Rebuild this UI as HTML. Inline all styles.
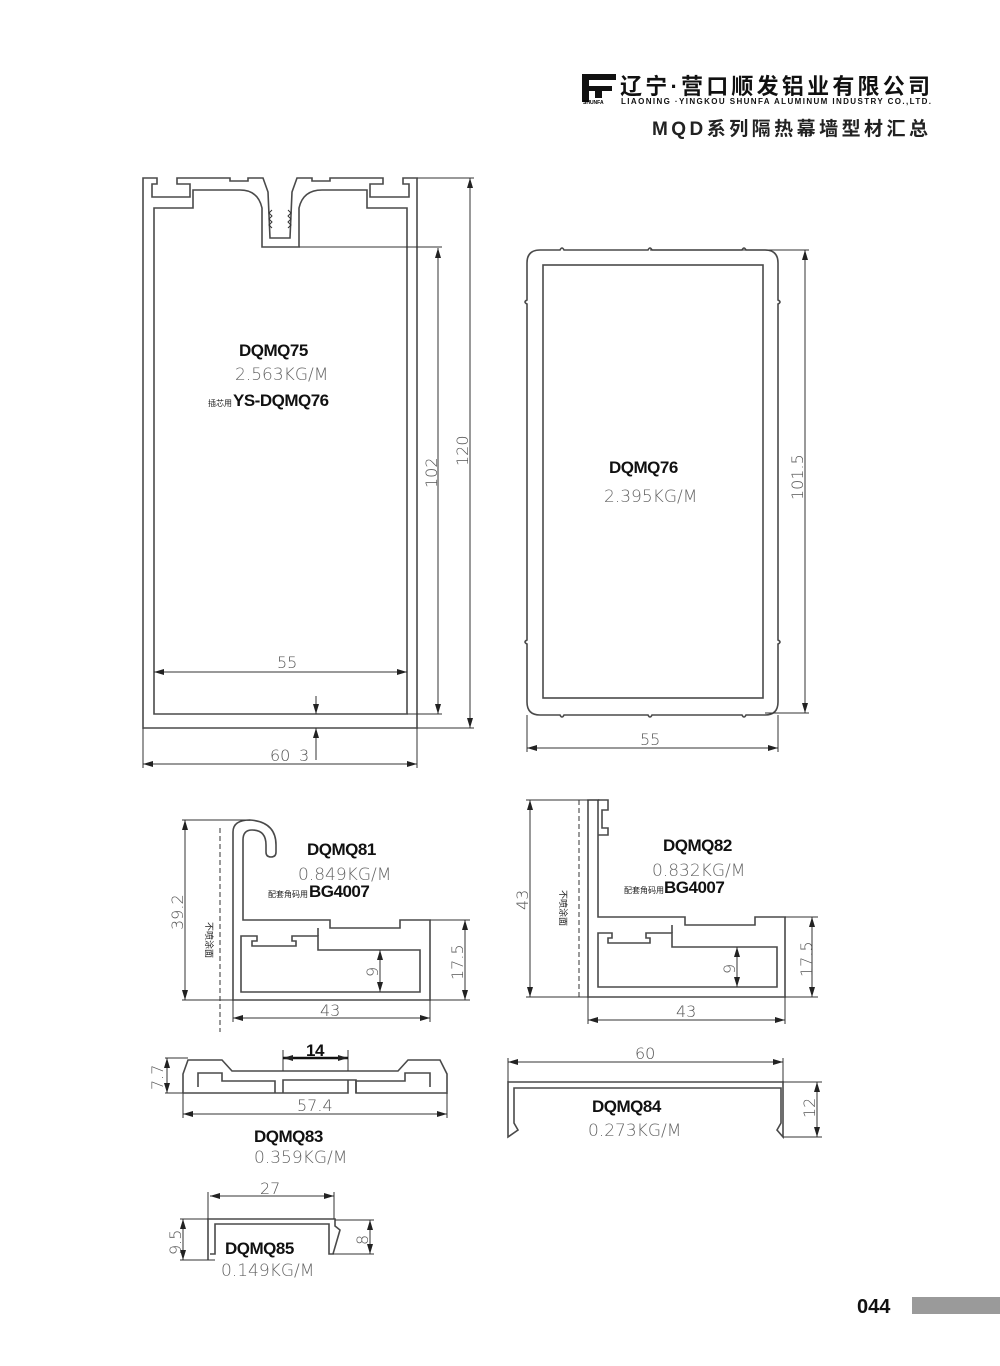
<!DOCTYPE html>
<html><head><meta charset="utf-8"><style>
html,body{margin:0;padding:0;background:#fff;}
svg{display:block;}
.p{fill:none;stroke:#4a4a4a;stroke-width:1.6;}
.d{fill:none;stroke:#333;stroke-width:1;}
.t{font-family:"Liberation Sans",sans-serif;}
.b{font-family:"Liberation Sans",sans-serif;font-weight:bold;fill:#111;font-size:17px;letter-spacing:-0.5px;}
.n{font-family:"DejaVu Sans","Liberation Sans",sans-serif;fill:#555;font-size:16px;font-weight:200;}
.k{font-family:"DejaVu Sans","Liberation Sans",sans-serif;fill:#666;font-size:17px;font-weight:200;}
.c{font-family:"Liberation Sans","Noto Sans CJK SC",sans-serif;}
</style></head><body>
<svg width="1000" height="1366" viewBox="0 0 1000 1366" xmlns="http://www.w3.org/2000/svg">
<defs>
<marker id="a" viewBox="0 0 10 6" refX="10" refY="3" markerWidth="10" markerHeight="6" orient="auto-start-reverse" markerUnits="userSpaceOnUse"><path d="M0,0 L10,3 L0,6 Z" fill="#222"/></marker>
</defs>
<!-- header -->
<g fill="#111">
<rect x="582" y="74" width="34" height="6"/>
<rect x="582" y="74" width="7" height="28"/>
<rect x="582" y="86" width="30" height="5"/>
<rect x="595" y="86" width="7" height="12"/>
</g>
<text x="583" y="104" class="t" font-size="5" font-weight="bold">SHUNFA</text>
<text x="620" y="94" class="c" font-size="22" font-weight="bold" fill="#111" textLength="310">辽宁·营口顺发铝业有限公司</text>
<text x="621" y="104" class="t" font-size="8" font-weight="bold" fill="#111" textLength="310">LIAONING ·YINGKOU SHUNFA ALUMINUM INDUSTRY CO.,LTD.</text>
<text x="652" y="135" class="c" font-size="19" font-weight="bold" fill="#222" textLength="276">MQD系列隔热幕墙型材汇总</text>

<!-- DQMQ75 -->
<path class="p" d="M143,728 V178 H157 V184 H152 V197 H190 V184 H177 V178 H230 V181 H248 V178 H263 L268,192 L270,238 H290 L292,192 L297,178 H312 V181 H330 V178 H383 V184 H370 V197 H409 V184 H403 V178 H417 V728 Z"/>
<path class="p" d="M154,714 V208 H193 V190 H240 Q258,190 262,208 V247 H299 V208 Q303,190 322,190 H367 V208 H407 V714 Z"/>
<path class="d" stroke="#888" d="M272,210 l-3,3 l3,3 l-3,3 l3,3 l-3,3 l3,3 M288,210 l3,3 l-3,3 l3,3 l-3,3 l3,3 l-3,3"/>
<path class="d" d="M417,178 H474 M299,247 H442 M407,714 H442 M417,728 H474 M143,728 V768 M417,728 V768"/>
<line class="d" x1="470" y1="178" x2="470" y2="728" marker-start="url(#a)" marker-end="url(#a)"/>
<line class="d" x1="438" y1="248" x2="438" y2="714" marker-start="url(#a)" marker-end="url(#a)"/>
<line class="d" x1="154" y1="672" x2="407" y2="672" marker-start="url(#a)" marker-end="url(#a)"/>
<line class="d" x1="143" y1="764" x2="417" y2="764" marker-start="url(#a)" marker-end="url(#a)"/>
<line class="d" x1="316" y1="696" x2="316" y2="714" marker-end="url(#a)"/>
<line class="d" x1="316" y1="760" x2="316" y2="728" marker-end="url(#a)"/>
<text x="277" y="668" class="n">55</text>
<text x="270" y="761" class="n">60</text>
<text x="299" y="761" class="n">3</text>
<text class="n" transform="translate(437,488) rotate(-90)">102</text>
<text class="n" transform="translate(468,466) rotate(-90)">120</text>
<text x="239" y="356" class="b">DQMQ75</text>
<text x="235" y="380" class="k">2.563KG/M</text>
<text x="208" y="406" class="c" font-size="8" fill="#222">插芯用</text>
<text x="233" y="406" class="b" font-size="14">YS-DQMQ76</text>

<!-- DQMQ76 -->
<path class="p" d="M540,250 H560 q2,-4 4,0 H648 q2,-4 4,0 H742 q2,-4 4,0 H765 Q778,250 778,263 V300 q4,2 0,4 V640 q4,2 0,4 V702 Q778,715 765,715 H746 q-2,4 -4,0 H652 q-2,4 -4,0 H564 q-2,4 -4,0 H540 Q527,715 527,702 V644 q-4,-2 0,-4 V304 q-4,-2 0,-4 V263 Q527,250 540,250 Z"/>
<rect class="p" x="543" y="265" width="220" height="433"/>
<path class="d" d="M650,250 H809 M765,713 H809 M527,715 V752 M778,715 V752"/>
<line class="d" x1="805" y1="250" x2="805" y2="713" marker-start="url(#a)" marker-end="url(#a)"/>
<line class="d" x1="527" y1="748" x2="778" y2="748" marker-start="url(#a)" marker-end="url(#a)"/>
<text x="640" y="745" class="n">55</text>
<text class="n" transform="translate(803,500) rotate(-90)">101.5</text>
<text x="609" y="473" class="b">DQMQ76</text>
<text x="604" y="502" class="k">2.395KG/M</text>

<!-- DQMQ81 -->
<path class="p" d="M233,1000 V832 Q233,820 250,820 Q276,822 276,845 V852 Q276,857 271,857 Q266,857 266,852 V845 Q266,830 252,830 Q243,830 243,840 V920 H330 V928 H400 V920 H430 V1000 Z"/>
<path class="p" d="M241,992 V936 H257 V941 H252 V946 H296 V941 H292 V936 H318 V950 H420 V992 Z"/>
<path class="p" d="M318,936 V928"/>
<path class="d" stroke-dasharray="5,3" d="M220,828 V1032"/>
<path class="d" d="M182,820 H250 M182,1000 H233 M233,1000 V1022 M430,1000 V1022 M430,920 H470 M430,1000 H470"/>
<line class="d" x1="185" y1="820" x2="185" y2="1000" marker-start="url(#a)" marker-end="url(#a)"/>
<line class="d" x1="233" y1="1018" x2="430" y2="1018" marker-start="url(#a)" marker-end="url(#a)"/>
<line class="d" x1="465" y1="920" x2="465" y2="1000" marker-start="url(#a)" marker-end="url(#a)"/>
<line class="d" x1="380" y1="950" x2="380" y2="992" marker-start="url(#a)" marker-end="url(#a)"/>
<text x="320" y="1016" class="n">43</text>
<text class="n" transform="translate(183,930) rotate(-90)">39.2</text>
<text class="n" transform="translate(463,980) rotate(-90)">17.5</text>
<text class="n" transform="translate(378,977) rotate(-90)">9</text>
<text class="c" font-size="9" fill="#222" transform="translate(206,922) rotate(90)">不喷涂面</text>
<text x="307" y="855" class="b">DQMQ81</text>
<text x="298" y="880" class="k">0.849KG/M</text>
<text x="268" y="897" class="c" font-size="8" fill="#222">配套角码用</text>
<text x="309" y="897" class="b" font-size="14">BG4007</text>

<!-- DQMQ82 -->
<path class="p" d="M588,997 V800 H598 V917 H685 V925 H755 V917 H785 V997 Z"/>
<path class="p" d="M598,800 H608 V810 H602 V828 H608 V835 H598"/>
<path class="p" d="M598,987 V933 H612 V938 H608 V943 H650 V938 H646 V933 H672 V947 H777 V987 Z"/>
<path class="p" d="M672,933 V925"/>
<path class="d" stroke-dasharray="5,3" d="M579,800 V998"/>
<path class="d" d="M526,800 H600 M526,997 H588 M588,997 V1024 M785,997 V1024 M785,917 H818 M785,997 H818"/>
<line class="d" x1="530" y1="800" x2="530" y2="997" marker-start="url(#a)" marker-end="url(#a)"/>
<line class="d" x1="588" y1="1020" x2="785" y2="1020" marker-start="url(#a)" marker-end="url(#a)"/>
<line class="d" x1="812" y1="917" x2="812" y2="997" marker-start="url(#a)" marker-end="url(#a)"/>
<line class="d" x1="737" y1="947" x2="737" y2="987" marker-start="url(#a)" marker-end="url(#a)"/>
<text x="676" y="1017" class="n">43</text>
<text class="n" transform="translate(528,910) rotate(-90)">43</text>
<text class="n" transform="translate(812,977) rotate(-90)">17.5</text>
<text class="n" transform="translate(735,974) rotate(-90)">9</text>
<text class="c" font-size="9" fill="#222" transform="translate(560,890) rotate(90)">不喷涂面</text>
<text x="663" y="851" class="b">DQMQ82</text>
<text x="652" y="876" class="k">0.832KG/M</text>
<text x="624" y="893" class="c" font-size="8" fill="#222">配套角码用</text>
<text x="664" y="893" class="b" font-size="14">BG4007</text>

<!-- DQMQ83 -->
<path class="p" d="M183,1093 V1074 L188,1060 H222 L232,1071 H398 L408,1060 H440 L447,1074 V1093 H356 V1080 H348 V1093 M348,1093 V1080 H283 V1093 H275 V1093 H183 Z"/>
<path class="p" d="M275,1093 V1081 H222 V1073 H198 V1087 M356,1093 V1081 H405 V1073 H430 V1087"/>
<path class="d" d="M165,1058 H188 M165,1093 H183 M183,1093 V1118 M447,1093 V1118 M283,1050 V1071 M348,1050 V1071"/>
<line class="d" x1="167" y1="1058" x2="167" y2="1093" marker-start="url(#a)" marker-end="url(#a)"/>
<line x1="283" y1="1058" x2="348" y2="1058" stroke="#111" stroke-width="2.5" marker-start="url(#a)" marker-end="url(#a)"/>
<line class="d" x1="183" y1="1114" x2="447" y2="1114" marker-start="url(#a)" marker-end="url(#a)"/>
<text x="306" y="1056" class="b" font-size="14">14</text>
<text x="297" y="1111" class="n">57.4</text>
<text class="n" transform="translate(163,1090) rotate(-90)">7.7</text>
<text x="254" y="1142" class="b">DQMQ83</text>
<text x="254" y="1163" class="k">0.359KG/M</text>

<!-- DQMQ84 -->
<path class="p" d="M508,1137 V1082 H783 V1137 L777,1130 L781,1123 V1088 H514 V1123 L518,1130 Z"/>
<path class="d" d="M508,1082 V1058 M783,1082 V1058 M783,1082 H822 M783,1137 H822"/>
<line class="d" x1="508" y1="1062" x2="783" y2="1062" marker-start="url(#a)" marker-end="url(#a)"/>
<line class="d" x1="817" y1="1082" x2="817" y2="1137" marker-start="url(#a)" marker-end="url(#a)"/>
<text x="635" y="1059" class="n">60</text>
<text class="n" transform="translate(815,1118) rotate(-90)">12</text>
<text x="592" y="1112" class="b">DQMQ84</text>
<text x="588" y="1136" class="k">0.273KG/M</text>

<!-- DQMQ85 -->
<path class="p" d="M208,1260 V1219 H335 V1226 L340,1230 L333,1254 H329 V1224 H215 V1254 H210"/>
<path class="d" d="M208,1219 V1192 M334,1219 V1192 M180,1219 H208 M180,1260 H215 M335,1220 H374 M333,1254 H374"/>
<line class="d" x1="210" y1="1196" x2="334" y2="1196" marker-start="url(#a)" marker-end="url(#a)"/>
<line class="d" x1="183" y1="1219" x2="183" y2="1260" marker-start="url(#a)" marker-end="url(#a)"/>
<line class="d" x1="370" y1="1220" x2="370" y2="1254" marker-start="url(#a)" marker-end="url(#a)"/>
<text x="260" y="1194" class="n">27</text>
<text class="n" transform="translate(181,1255) rotate(-90)">9.5</text>
<text class="n" transform="translate(368,1245) rotate(-90)">8</text>
<text x="225" y="1254" class="b">DQMQ85</text>
<text x="221" y="1276" class="k">0.149KG/M</text>

<!-- page number -->
<text x="857" y="1313" class="t" font-size="20" font-weight="bold" fill="#111">044</text>
<rect x="912" y="1297" width="88" height="17" fill="#9a9a9a"/>
</svg>
</body></html>
